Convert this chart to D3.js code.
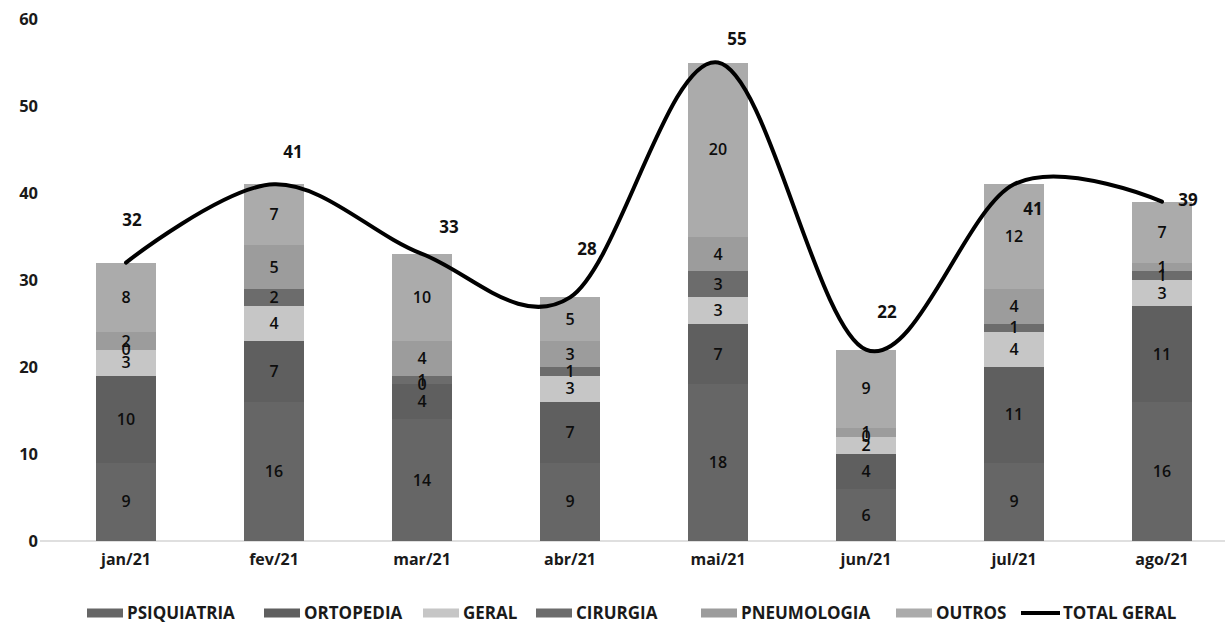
<!DOCTYPE html>
<html>
<head>
<meta charset="utf-8">
<script src="https://cdn.jsdelivr.net/npm/d3@7/dist/d3.min.js"></script>
<style>
  html, body { margin: 0; padding: 0; background: #fff; }
  svg { display: block; font-family: "Open Sans", "DejaVu Sans", sans-serif; }
</style>
</head>
<body>
<svg id="chart" width="1225" height="627"></svg>
<script>
// Monthly counts per specialty (stacked bottom to top) and the overall total
const months = ["jan/21", "fev/21", "mar/21", "abr/21", "mai/21", "jun/21", "jul/21", "ago/21"];
const series = ["PSIQUIATRIA", "ORTOPEDIA", "GERAL", "CIRURGIA", "PNEUMOLOGIA", "OUTROS"];
const psiquiatria = [9, 16, 14, 9, 18, 6, 9, 16];
const ortopedia   = [10, 7, 4, 7, 7, 4, 11, 11];
const geral       = [3, 4, 0, 3, 3, 2, 4, 3];
const cirurgia    = [0, 2, 1, 1, 3, 0, 1, 1];
const pneumologia = [2, 5, 4, 3, 4, 1, 4, 1];
const outros      = [8, 7, 10, 5, 20, 9, 12, 7];
const totalGeral  = [32, 41, 33, 28, 55, 22, 41, 39];
const yTicks = [0, 10, 20, 30, 40, 50, 60];

// Styling
const colors = ["#666666", "#5f5f5f", "#c6c6c6", "#6c6c6c", "#9c9c9c", "#ababab"];
// Pixel nudges for the total labels (dx, dy relative to the line point)
const totalLabelOffsets = [[6, -43], [19, -32], [27, -27], [17, -48], [19, -23], [21, -38], [19, 25], [26, -2]];

const svg = d3.select("#chart");
const margin = { left: 52, right: -11 };
const W = 1225;

const x = d3.scaleBand()
  .domain(months)
  .range([margin.left, W - margin.right])
  .paddingInner(0.6)
  .paddingOuter(0.3);

const y = d3.scaleLinear().domain([0, 60]).range([541, 19]);

// Build stacked layout
const rows = months.map((m, i) => ({
  month: m,
  PSIQUIATRIA: psiquiatria[i],
  ORTOPEDIA: ortopedia[i],
  GERAL: geral[i],
  CIRURGIA: cirurgia[i],
  PNEUMOLOGIA: pneumologia[i],
  OUTROS: outros[i]
}));
const stacked = d3.stack().keys(series)(rows);

// Baseline
svg.append("line")
  .attr("x1", 40).attr("x2", W)
  .attr("y1", y(0)).attr("y2", y(0))
  .attr("stroke", "#d4d4d4").attr("stroke-width", 1.5);

// Y axis labels
const yAxis = d3.axisLeft(y).tickValues(yTicks).tickSize(0).tickPadding(0);
svg.append("g")
  .attr("transform", "translate(38,0)")
  .call(yAxis)
  .call(g => g.select(".domain").remove())
  .call(g => g.selectAll("text")
    .attr("font-family", "'Open Sans', sans-serif")
    .attr("font-size", 16.5).attr("font-weight", 700).attr("fill", "#1a1a1a"));

// X axis labels
const xAxis = d3.axisBottom(x).tickSize(0).tickPadding(0);
svg.append("g")
  .attr("transform", `translate(0,${y(0) + 13})`)
  .call(xAxis)
  .call(g => g.select(".domain").remove())
  .call(g => g.selectAll("text")
    .attr("font-family", "'Open Sans', sans-serif")
    .attr("font-size", 16).attr("font-weight", 700).attr("fill", "#1a1a1a"));

// Stacked bars
const layers = svg.append("g").attr("shape-rendering", "crispEdges").selectAll("g")
  .data(stacked).join("g")
  .attr("fill", (d, i) => colors[i]);

layers.selectAll("rect")
  .data(d => d).join("rect")
  .attr("x", d => x(d.data.month))
  .attr("width", x.bandwidth())
  .attr("y", d => y(d[1]))
  .attr("height", d => Math.max(0, y(d[0]) - y(d[1])));

// Segment value labels
const segLabels = svg.append("g");
stacked.forEach(layer => {
  layer.forEach(d => {
    segLabels.append("text")
      .attr("x", x(d.data.month) + x.bandwidth() / 2)
      .attr("y", (y(d[0]) + y(d[1])) / 2)
      .attr("dy", "0.35em")
      .attr("text-anchor", "middle")
      .attr("font-size", 16).attr("font-weight", 600)
      .attr("fill", "#0d0d0d")
      .text(d[1] - d[0]);
  });
});

// Total line (smoothed)
const cx = m => x(m) + x.bandwidth() / 2;
const line = d3.line()
  .x((d, i) => cx(months[i]))
  .y(d => y(d))
  .curve(d3.curveCardinal.tension(0));

svg.append("path")
  .datum(totalGeral)
  .attr("fill", "none")
  .attr("stroke", "#000")
  .attr("stroke-width", 4)
  .attr("stroke-linecap", "round")
  .attr("d", line);

// Total labels
svg.append("g").selectAll("text")
  .data(totalGeral).join("text")
  .attr("x", (d, i) => cx(months[i]) + totalLabelOffsets[i][0])
  .attr("y", (d, i) => y(d) + totalLabelOffsets[i][1])
  .attr("dy", "0.35em")
  .attr("text-anchor", "middle")
  .attr("font-size", 17).attr("font-weight", 700)
  .attr("fill", "#111")
  .text(d => d);

// Legend
const legendItems = series.map((s, i) => ({ name: s, color: colors[i], type: "rect" }))
  .concat([{ name: "TOTAL GERAL", color: "#000", type: "line" }]);
const legendX = [87, 264, 423, 536, 701, 896, 1021];
const legendY = 613;
const lg = svg.append("g");
legendItems.forEach((it, i) => {
  const g = lg.append("g").attr("transform", `translate(${legendX[i]},${legendY})`);
  if (it.type === "rect") {
    g.append("rect").attr("x", 0).attr("y", -4.5).attr("width", 36).attr("height", 9).attr("fill", it.color);
  } else {
    g.append("line").attr("x1", 0).attr("x2", 39).attr("y1", 0).attr("y2", 0)
      .attr("stroke", "#000").attr("stroke-width", 4);
  }
  g.append("text")
    .attr("x", it.type === "rect" ? 40 : 42)
    .attr("y", 0).attr("dy", "0.35em")
    .attr("font-size", 17).attr("font-weight", 700)
    .attr("fill", "#1a1a1a")
    .text(it.name);
});
</script>
</body>
</html>
